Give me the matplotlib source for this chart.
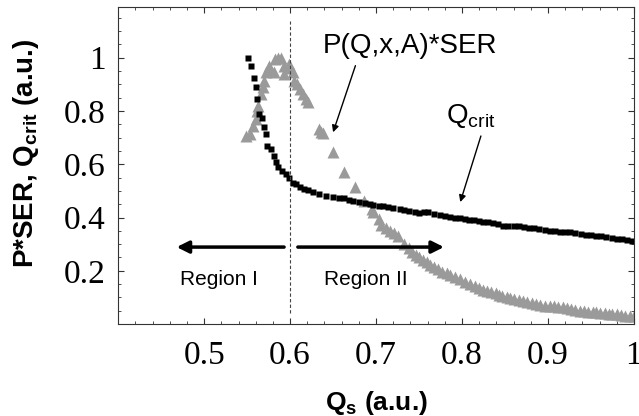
import matplotlib
matplotlib.use("Agg")
import matplotlib.pyplot as plt
from matplotlib.ticker import MultipleLocator, FormatStrFormatter

plt.rcParams['mathtext.fontset'] = 'custom'
plt.rcParams['mathtext.rm'] = 'Liberation Sans'
plt.rcParams['mathtext.bf'] = 'Liberation Sans:bold'

# Q_crit (black squares)
qcrit_x = [0.551, 0.555, 0.558, 0.560, 0.562, 0.564, 0.567, 0.570, 0.572, 0.573,
           0.578, 0.581, 0.584, 0.586, 0.591, 0.595, 0.599, 0.603, 0.607, 0.611,
           0.616, 0.621, 0.627, 0.634, 0.642, 0.650, 0.657, 0.663, 0.668, 0.673,
           0.680, 0.687, 0.693, 0.697, 0.703, 0.708, 0.714, 0.720, 0.728, 0.733,
           0.738, 0.745, 0.750, 0.756, 0.761, 0.768, 0.774, 0.780, 0.786, 0.792,
           0.798, 0.803, 0.808, 0.814, 0.820, 0.825, 0.830, 0.836, 0.842, 0.848,
           0.854, 0.860, 0.866, 0.872, 0.878, 0.884, 0.890, 0.896, 0.902, 0.908,
           0.914, 0.920, 0.926, 0.932, 0.938, 0.944, 0.950, 0.956, 0.962, 0.968,
           0.974, 0.980, 0.986, 0.992, 0.998]
qcrit_y = [0.998, 0.970, 0.924, 0.890, 0.845, 0.789, 0.773, 0.740, 0.714, 0.670,
           0.657, 0.631, 0.608, 0.590, 0.576, 0.563, 0.550, 0.530, 0.524, 0.516,
           0.508, 0.502, 0.497, 0.488, 0.482, 0.477, 0.475, 0.473, 0.467, 0.462,
           0.458, 0.454, 0.450, 0.447, 0.445, 0.443, 0.440, 0.436, 0.432, 0.428,
           0.424, 0.420, 0.418, 0.420, 0.419, 0.413, 0.409, 0.405, 0.402, 0.400,
           0.398, 0.394, 0.390, 0.389, 0.387, 0.385, 0.383, 0.380, 0.376, 0.370,
           0.368, 0.368, 0.367, 0.364, 0.362, 0.360, 0.356, 0.353, 0.350, 0.349,
           0.347, 0.346, 0.345, 0.342, 0.339, 0.335, 0.333, 0.330, 0.329, 0.327,
           0.323, 0.319, 0.318, 0.316, 0.312]

# P(Q,x,A)*SER (grey triangles)
pser_x = [0.549, 0.553, 0.557, 0.560, 0.561, 0.563, 0.566, 0.568, 0.570, 0.572,
          0.575, 0.578, 0.581, 0.582, 0.586, 0.589, 0.593, 0.593, 0.597, 0.599,
          0.603, 0.605, 0.608, 0.611, 0.615, 0.618, 0.621, 0.634, 0.636, 0.638,
          0.650, 0.663, 0.675, 0.686, 0.695, 0.697, 0.704, 0.706, 0.711, 0.716,
          0.721, 0.726, 0.732, 0.738, 0.742, 0.746, 0.750, 0.755, 0.759, 0.763,
          0.767, 0.772, 0.777, 0.782, 0.786, 0.792, 0.798, 0.804, 0.809, 0.815,
          0.820, 0.825, 0.829, 0.834, 0.839, 0.843, 0.847, 0.852, 0.856, 0.861,
          0.866, 0.871, 0.876, 0.881, 0.886, 0.891, 0.897, 0.902, 0.907, 0.912,
          0.917, 0.922, 0.927, 0.932, 0.937, 0.942, 0.947, 0.952, 0.956, 0.961,
          0.966, 0.971, 0.975, 0.980, 0.985, 0.990, 0.995, 1.000]
pser_y = [0.706, 0.715, 0.745, 0.770, 0.800, 0.819, 0.864, 0.890, 0.913, 0.946,
          0.970, 0.950, 0.946, 0.995, 1.000, 0.999, 0.970, 0.939, 0.960, 0.977,
          0.946, 0.913, 0.900, 0.883, 0.864, 0.845, 0.834, 0.732, 0.720, 0.718,
          0.646, 0.570, 0.514, 0.462, 0.432, 0.420, 0.394, 0.372, 0.360, 0.349,
          0.340, 0.330, 0.300, 0.285, 0.270, 0.260, 0.252, 0.242, 0.233, 0.222,
          0.214, 0.205, 0.195, 0.190, 0.184, 0.176, 0.169, 0.158, 0.150, 0.142,
          0.135, 0.128, 0.124, 0.120, 0.116, 0.110, 0.105, 0.102, 0.098, 0.094,
          0.090, 0.086, 0.083, 0.079, 0.076, 0.072, 0.068, 0.067, 0.066, 0.065,
          0.064, 0.060, 0.056, 0.052, 0.049, 0.048, 0.047, 0.046, 0.045, 0.043,
          0.041, 0.039, 0.038, 0.036, 0.034, 0.032, 0.030, 0.029]

x_ticks = [0.5, 0.6, 0.7, 0.8, 0.9, 1.0]
y_ticks = [0.2, 0.4, 0.6, 0.8, 1.0]

fig = plt.figure(figsize=(6.39, 4.16), dpi=100)
ax = fig.add_axes([0.185, 0.221, 0.807, 0.762])

ax.plot(pser_x, pser_y, ls="none", marker="^", ms=8.5, color="#9a9a9a", mec="none")
ax.plot(qcrit_x, qcrit_y, ls="none", marker="s", ms=3.8, color="k", mec="none")

# 分界线
ax.axvline(0.6, ymin=0.035, ymax=0.955, color="#444444", lw=0.8, ls=(0, (3, 2)))

# 区域箭头
ax.annotate("", xy=(0.468, 0.289), xytext=(0.593, 0.289),
            arrowprops=dict(arrowstyle="-|>", lw=2.5, color="k", mutation_scale=18,
                            shrinkA=0, shrinkB=0))
ax.annotate("", xy=(0.779, 0.289), xytext=(0.609, 0.289),
            arrowprops=dict(arrowstyle="-|>", lw=2.5, color="k", mutation_scale=18,
                            shrinkA=0, shrinkB=0))
ax.text(0.517, 0.169, "Region I", ha="center", va="center", fontsize=15,
        family="Liberation Sans")
ax.text(0.688, 0.169, "Region II", ha="center", va="center", fontsize=15,
        family="Liberation Sans")

# 曲线标注
ax.text(0.739, 1.045, "P(Q,x,A)*SER", ha="center", va="center", fontsize=20,
        family="Liberation Sans")
ax.annotate("", xy=(0.650, 0.72), xytext=(0.676, 0.97),
            arrowprops=dict(arrowstyle="-|>", lw=1, color="k", mutation_scale=10,
                            shrinkA=0, shrinkB=0))
ax.text(0.810, 0.78, r"Q$_{\mathrm{crit}}$", ha="center", va="center", fontsize=20,
        family="Liberation Sans")
ax.annotate("", xy=(0.798, 0.458), xytext=(0.822, 0.706),
            arrowprops=dict(arrowstyle="-|>", lw=1, color="k", mutation_scale=10,
                            shrinkA=0, shrinkB=0))

ax.set_xlim(0.4, 1.0)
ax.set_ylim(0.0, 1.19)
ax.set_xticks(x_ticks)
ax.set_yticks(y_ticks)
ax.xaxis.set_minor_locator(MultipleLocator(0.02))
ax.yaxis.set_minor_locator(MultipleLocator(0.05))
ax.xaxis.set_major_formatter(FormatStrFormatter('%g'))
ax.yaxis.set_major_formatter(FormatStrFormatter('%g'))
ax.tick_params(which="both", direction="in", top=True, right=True, color="#333333")
ax.tick_params(which="major", length=4, pad=9)
ax.tick_params(which="minor", length=2.5)
ax.tick_params(axis="x", which="major", pad=12)
for lab in ax.get_xticklabels() + ax.get_yticklabels():
    lab.set_family("Liberation Serif")
    lab.set_fontsize(24)
for s in ax.spines.values():
    s.set_color("#333333")

ax.set_xlabel(r"Q$_\mathbf{s}$ (a.u.)", fontsize=19, fontweight="bold",
              family="Liberation Sans", labelpad=13)
ax.set_ylabel(r"P*SER, Q$_\mathbf{crit}$ (a.u.)", fontsize=20, fontweight="bold",
              family="Liberation Sans")
ax.yaxis.set_label_coords(-0.15, 0.54)

plt.savefig("out.png", dpi=100)
